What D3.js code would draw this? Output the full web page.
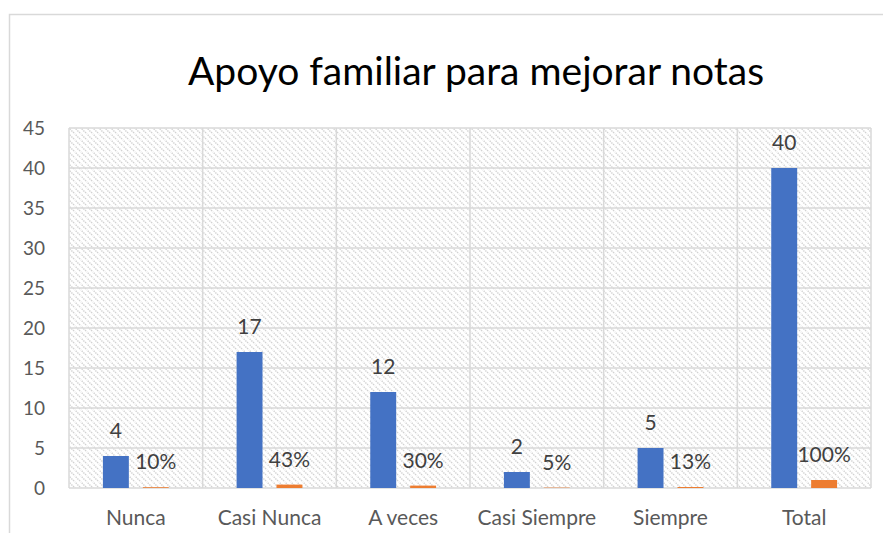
<!DOCTYPE html>
<html>
<head>
<meta charset="utf-8">
<script src="https://cdn.jsdelivr.net/npm/d3@7"></script>
<style>
  body { margin: 0; background: #fff; }
  svg text { font-family: Lato, "Open Sans", sans-serif; }
</style>
</head>
<body>
<svg id="chart" width="883" height="533"></svg>
<script>
// chart data
var categories = ['Nunca', 'Casi Nunca', 'A veces', 'Casi Siempre', 'Siempre', 'Total'];
var counts = [4, 17, 12, 2, 5, 40];
var shares = [0.10, 0.425, 0.30, 0.05, 0.125, 1.00];
var shareLabels = ['10%', '43%', '30%', '5%', '13%', '100%'];
var yTicks = [0, 5, 10, 15, 20, 25, 30, 35, 40, 45];

var svg = d3.select('#chart');
var W = 883, H = 533;
var margin = { top: 128, right: 12, bottom: 45, left: 69 };
var plotW = W - margin.left - margin.right;
var plotH = H - margin.top - margin.bottom;

// hatch pattern for the plot area
var defs = svg.append('defs');
var pat = defs.append('pattern')
	.attr('id', 'hatch')
	.attr('patternUnits', 'userSpaceOnUse')
	.attr('width', 6)
	.attr('height', 6);
pat.append('rect').attr('width', 6).attr('height', 6).attr('fill', '#fff');
pat.append('path')
	.attr('d', 'M-1,-1 L7,7 M-1,5 L1,7 M5,-1 L7,1')
	.attr('stroke', '#d2d2d2')
	.attr('stroke-width', 1.4)
	.attr('stroke-dasharray', '1.4,1');

// outer chart border
svg.append('rect')
	.attr('x', 9.5).attr('y', 14.5)
	.attr('width', W + 20).attr('height', H + 20)
	.attr('fill', '#fff')
	.attr('stroke', '#d9d9d9')
	.attr('stroke-width', 1.5);

// title
svg.append('text')
	.attr('x', 476)
	.attr('y', 85)
	.attr('text-anchor', 'middle')
	.attr('font-size', 39)
	.attr('fill', '#000')
	.text('Apoyo familiar para mejorar notas');

var g = svg.append('g').attr('transform', 'translate(' + margin.left + ',' + margin.top + ')');

var x0 = d3.scaleBand().domain(categories).range([0, plotW]).padding(0);
var x1 = d3.scaleBand().domain(['count', 'share'])
	.range([0, x0.bandwidth()])
	.paddingInner(0.35)
	.paddingOuter(0.85);
var y = d3.scaleLinear().domain([0, 45]).range([plotH, 0]);

g.append('rect')
	.attr('width', plotW).attr('height', plotH)
	.attr('fill', 'url(#hatch)');

// horizontal gridlines
g.append('g').selectAll('line').data(yTicks).join('line')
	.attr('x1', 0).attr('x2', plotW)
	.attr('y1', function(d) { return y(d); })
	.attr('y2', function(d) { return y(d); })
	.attr('stroke', '#d9d9d9')
	.attr('stroke-width', 1.5);

// vertical gridlines on category boundaries
var bounds = categories.map(function(c) { return x0(c); }).concat([plotW]);
g.append('g').selectAll('line').data(bounds).join('line')
	.attr('x1', function(d) { return d; }).attr('x2', function(d) { return d; })
	.attr('y1', 0).attr('y2', plotH)
	.attr('stroke', '#d9d9d9')
	.attr('stroke-width', 1.5);

// y axis labels
var yAxis = d3.axisLeft(y).tickValues(yTicks).tickSize(0).tickPadding(24);
var ya = g.append('g').call(yAxis);
ya.select('.domain').remove();
ya.selectAll('text')
	.attr('font-size', 19)
	.attr('fill', '#595959')
	.style('font-family', 'Lato, sans-serif');

// x axis labels
var xAxis = d3.axisBottom(x0).tickSize(0).tickPadding(22);
var xa = g.append('g').attr('transform', 'translate(0,' + plotH + ')').call(xAxis);
xa.select('.domain').remove();
xa.selectAll('text')
	.attr('font-size', 21)
	.attr('fill', '#595959')
	.style('font-family', 'Lato, sans-serif');

var rows = categories.map(function(c, i) {
	return { cat: c, count: counts[i], share: shares[i], label: shareLabels[i] };
});

var grp = g.append('g').selectAll('g').data(rows).join('g')
	.attr('transform', function(d) { return 'translate(' + x0(d.cat) + ',0)'; });

grp.append('rect')
	.attr('x', x1('count'))
	.attr('width', x1.bandwidth())
	.attr('y', function(d) { return y(d.count); })
	.attr('height', function(d) { return plotH - y(d.count); })
	.attr('fill', '#4472c4');

grp.append('rect')
	.attr('x', x1('share'))
	.attr('width', x1.bandwidth())
	.attr('y', function(d) { return y(d.share); })
	.attr('height', function(d) { return plotH - y(d.share); })
	.attr('fill', '#ed7d31');

// data labels
grp.append('text')
	.attr('x', x1('count') + x1.bandwidth() / 2)
	.attr('y', function(d) { return y(d.count) - 18; })
	.attr('text-anchor', 'middle')
	.attr('font-size', 21)
	.attr('fill', '#404040')
	.text(function(d) { return d.count; });

grp.append('text')
	.attr('x', x1('share') + x1.bandwidth() / 2)
	.attr('y', function(d) { return y(d.share) - 18; })
	.attr('text-anchor', 'middle')
	.attr('font-size', 21)
	.attr('fill', '#404040')
	.text(function(d) { return d.label; });
</script>
</body>
</html>
